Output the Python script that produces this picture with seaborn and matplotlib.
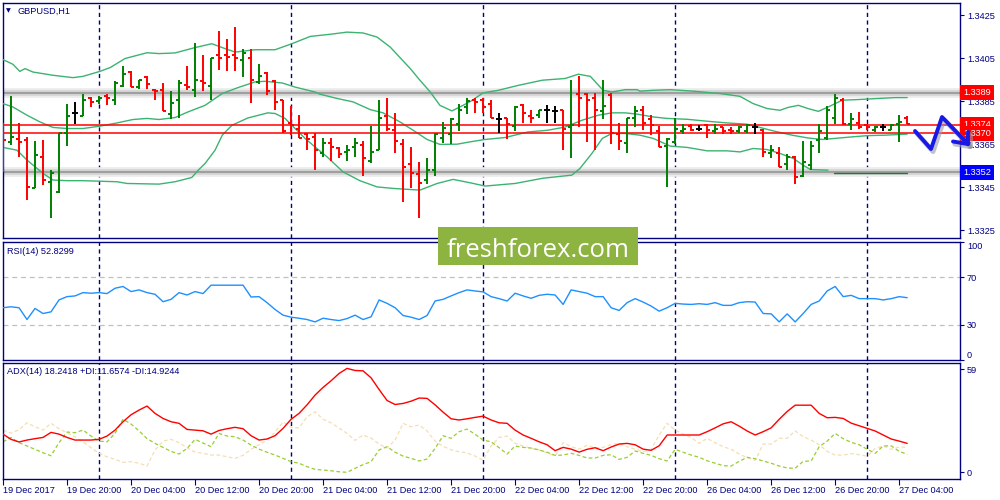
import numpy as np
import pandas as pd
import matplotlib
matplotlib.use("Agg")
import matplotlib.pyplot as plt
import matplotlib.transforms as mtrans
from matplotlib.lines import Line2D
from matplotlib.patches import Rectangle
import seaborn as sns

# ---------------- data ----------------
symbol_title = "GBPUSD,H1"
rsi_title = "RSI(14) 52.8299"
adx_title = "ADX(14) 18.2418 +DI:11.6574 -DI:14.9244"

open_ = [1.33740, 1.33662, 1.33673, 1.33669, 1.33445, 1.33591, 1.33475, 1.33428, 1.33703, 1.33793,
         1.33783, 1.33867, 1.33851, 1.33873, 1.33858, 1.33920, 1.33986, 1.33916, 1.33963, 1.33904,
         1.33901, 1.33790, 1.33855, 1.33924, 1.33904, 1.33944, 1.33920, 1.34064, 1.34064, 1.34064,
         1.34041, 1.34053, 1.33940, 1.33982, 1.33944, 1.33855, 1.33749, 1.33723, 1.33697, 1.33684,
         1.33610, 1.33656, 1.33630, 1.33614, 1.33637, 1.33645, 1.33572, 1.33625, 1.33780, 1.33715,
         1.33653, 1.33557, 1.33510, 1.33483, 1.33532, 1.33681, 1.33697, 1.33746, 1.33823, 1.33858,
         1.33855, 1.33836, 1.33765, 1.33774, 1.33734, 1.33831, 1.33780, 1.33785, 1.33811, 1.33805,
         1.33811, 1.33730, 1.33883, 1.33883, 1.33863, 1.33805, 1.33878, 1.33697, 1.33656, 1.33774,
         1.33811, 1.33765, 1.33712, 1.33641, 1.33661, 1.33712, 1.33734, 1.33723, 1.33738, 1.33712,
         1.33730, 1.33718, 1.33712, 1.33712, 1.33728, 1.33718, 1.33610, 1.33610, 1.33557, 1.33591,
         1.33501, 1.33552, 1.33669, 1.33677, 1.33774, 1.33855, 1.33743, 1.33749, 1.33738, 1.33715,
         1.33728, 1.33718, 1.33743, 1.33770]
high = [1.33750, 1.33873, 1.33748, 1.33683, 1.33664, 1.33669, 1.33532, 1.33703, 1.33836, 1.33847,
        1.33883, 1.33870, 1.33873, 1.33883, 1.33944, 1.34013, 1.33991, 1.33951, 1.33966, 1.33909,
        1.33935, 1.33898, 1.33951, 1.34013, 1.34123, 1.34064, 1.34053, 1.34176, 1.34142, 1.34195,
        1.34092, 1.34092, 1.34022, 1.33986, 1.33948, 1.33855, 1.33827, 1.33785, 1.33700, 1.33700,
        1.33677, 1.33677, 1.33637, 1.33645, 1.33677, 1.33665, 1.33734, 1.33855, 1.33863, 1.33793,
        1.33672, 1.33637, 1.33568, 1.33584, 1.33703, 1.33754, 1.33774, 1.33839, 1.33863, 1.33867,
        1.33863, 1.33855, 1.33793, 1.33774, 1.33827, 1.33835, 1.33808, 1.33811, 1.33831, 1.33827,
        1.33811, 1.33951, 1.33966, 1.33889, 1.33889, 1.33951, 1.33889, 1.33749, 1.33774, 1.33827,
        1.33827, 1.33785, 1.33734, 1.33677, 1.33770, 1.33743, 1.33743, 1.33738, 1.33743, 1.33743,
        1.33730, 1.33728, 1.33734, 1.33746, 1.33749, 1.33723, 1.33645, 1.33637, 1.33604, 1.33594,
        1.33665, 1.33665, 1.33743, 1.33827, 1.33883, 1.33863, 1.33793, 1.33800, 1.33743, 1.33734,
        1.33746, 1.33743, 1.33785, 1.33780]
low = [1.33520, 1.33645, 1.33591, 1.33390, 1.33444, 1.33459, 1.33304, 1.33424, 1.33641, 1.33746,
       1.33780, 1.33823, 1.33839, 1.33831, 1.33831, 1.33916, 1.33916, 1.33909, 1.33909, 1.33858,
       1.33805, 1.33765, 1.33774, 1.33904, 1.33870, 1.33898, 1.33855, 1.33994, 1.33991, 1.33991,
       1.33963, 1.33842, 1.33932, 1.33878, 1.33808, 1.33703, 1.33692, 1.33677, 1.33625, 1.33532,
       1.33591, 1.33572, 1.33584, 1.33572, 1.33591, 1.33501, 1.33563, 1.33625, 1.33712, 1.33610,
       1.33382, 1.33444, 1.33305, 1.33464, 1.33501, 1.33656, 1.33650, 1.33712, 1.33790, 1.33793,
       1.33793, 1.33774, 1.33703, 1.33672, 1.33712, 1.33749, 1.33749, 1.33770, 1.33749, 1.33749,
       1.33625, 1.33584, 1.33730, 1.33661, 1.33625, 1.33765, 1.33653, 1.33625, 1.33610, 1.33730,
       1.33718, 1.33692, 1.33635, 1.33452, 1.33653, 1.33697, 1.33712, 1.33712, 1.33681, 1.33697,
       1.33697, 1.33697, 1.33703, 1.33703, 1.33697, 1.33591, 1.33584, 1.33542, 1.33532, 1.33464,
       1.33495, 1.33532, 1.33610, 1.33669, 1.33746, 1.33738, 1.33718, 1.33723, 1.33718, 1.33707,
       1.33712, 1.33715, 1.33661, 1.33743]
close = [1.33670, 1.33683, 1.33662, 1.33452, 1.33599, 1.33485, 1.33514, 1.33700, 1.33780, 1.33793,
         1.33855, 1.33847, 1.33863, 1.33863, 1.33935, 1.33976, 1.33916, 1.33948, 1.33929, 1.33898,
         1.33805, 1.33842, 1.33935, 1.33916, 1.33951, 1.33935, 1.34053, 1.34053, 1.34056, 1.34053,
         1.34075, 1.33951, 1.33966, 1.33898, 1.33847, 1.33710, 1.33738, 1.33681, 1.33672, 1.33625,
         1.33656, 1.33637, 1.33604, 1.33625, 1.33656, 1.33584, 1.33614, 1.33774, 1.33723, 1.33665,
         1.33545, 1.33514, 1.33470, 1.33532, 1.33697, 1.33724, 1.33765, 1.33811, 1.33851, 1.33847,
         1.33823, 1.33774, 1.33765, 1.33743, 1.33823, 1.33793, 1.33770, 1.33808, 1.33811, 1.33805,
         1.33723, 1.33738, 1.33863, 1.33858, 1.33811, 1.33827, 1.33700, 1.33665, 1.33770, 1.33805,
         1.33749, 1.33738, 1.33635, 1.33672, 1.33723, 1.33723, 1.33715, 1.33723, 1.33715, 1.33723,
         1.33712, 1.33712, 1.33728, 1.33738, 1.33728, 1.33614, 1.33625, 1.33545, 1.33591, 1.33498,
         1.33568, 1.33641, 1.33710, 1.33808, 1.33863, 1.33746, 1.33765, 1.33730, 1.33728, 1.33730,
         1.33728, 1.33738, 1.33754, 1.33743]

upper_t = [0, 1.25, 2.1, 2.75, 3.75, 6.25, 8.75, 10, 12.1, 13.4, 15.25, 18, 19.5, 21.5, 24, 26.1, 27.4,
           29, 31.5, 34, 36.1, 38.4, 40.9, 43, 45, 46.75, 48.4, 50.9, 52.1, 53.4, 54.6, 56.1, 57.5,
           58.5, 60, 61.9, 64.4, 67.4, 70.25, 71.9, 73.4, 75, 76.1, 77.75, 79.25, 79.6, 81.25, 83.4,
           86.25, 89.6, 92.1, 93.75, 95.5, 97.1, 98.1, 99.4, 100.6, 101.9, 103.1, 104.9, 106.9,
           109.4, 111.5, 113]
upper_v = [1.34044, 1.34022, 1.33989, 1.34002, 1.33986, 1.33971, 1.33960, 1.33966, 1.33989, 1.34007,
           1.34049, 1.34076, 1.34072, 1.34075, 1.34100, 1.34118, 1.34100, 1.34079, 1.34090, 1.34090,
           1.34118, 1.34152, 1.34162, 1.34172, 1.34168, 1.34149, 1.34102, 1.34002, 1.33948, 1.33893,
           1.33831, 1.33805, 1.33831, 1.33851, 1.33889, 1.33901, 1.33924, 1.33948, 1.33956, 1.33976,
           1.33966, 1.33901, 1.33893, 1.33904, 1.33904, 1.33897, 1.33901, 1.33904, 1.33897, 1.33886,
           1.33873, 1.33839, 1.33816, 1.33808, 1.33821, 1.33831, 1.33816, 1.33803, 1.33823, 1.33855,
           1.33858, 1.33863, 1.33867, 1.33867]
mid_t = [0, 1.25, 3, 4.6, 6.25, 8, 10, 12.1, 14.25, 16.25, 18, 19.5, 21.5, 23.1, 25.25, 27.4, 29.4,
         31.5, 32.75, 34.9, 36.5, 39, 39.6, 41.75, 43.75, 45.9, 47.5, 49.6, 51.25, 53, 54.6, 56.75,
         58.4, 60.25, 62.75, 65.6, 68.1, 70.25, 72.4, 74.4, 76.1, 77.75, 79.25, 81.25, 83, 85.5, 88,
         90.5, 93, 94.6, 96.25, 98.6, 100.6, 102.4, 104, 106.1, 108.1, 110.25, 113]
mid_v = [1.33839, 1.33823, 1.33785, 1.33754, 1.33728, 1.33723, 1.33723, 1.33734, 1.33749, 1.33765,
         1.33770, 1.33765, 1.33774, 1.33800, 1.33831, 1.33886, 1.33914, 1.33940, 1.33943, 1.33935,
         1.33916, 1.33893, 1.33883, 1.33863, 1.33847, 1.33811, 1.33796, 1.33754, 1.33715, 1.33672,
         1.33649, 1.33650, 1.33661, 1.33672, 1.33681, 1.33707, 1.33715, 1.33730, 1.33762, 1.33785,
         1.33796, 1.33796, 1.33790, 1.33777, 1.33770, 1.33766, 1.33757, 1.33749, 1.33743, 1.33728,
         1.33712, 1.33692, 1.33679, 1.33672, 1.33677, 1.33684, 1.33690, 1.33692, 1.33697]
lower_t = [0, 1.75, 3, 5, 6.25, 8, 10, 14.25, 15.5, 19.5, 21.5, 23.6, 24.4, 25.25, 26.5, 27.4, 28.6,
           30.6, 33.1, 34, 35.25, 36.5, 37.75, 39, 40.5, 42.5, 44.6, 46.75, 48.75, 52.1, 54.25, 56.25,
           58.4, 60.25, 64, 67.4, 71.1, 72.1, 73.6, 74.9, 76.1, 77.75, 79.6, 81.25, 83.4, 85.5, 88,
           90.5, 92.1, 93.75, 95.5, 97.1, 98.75, 100, 100.9, 103.1]
lower_v = [1.33635, 1.33622, 1.33576, 1.33514, 1.33483, 1.33480, 1.33480, 1.33475, 1.33467, 1.33464,
           1.33475, 1.33495, 1.33529, 1.33560, 1.33622, 1.33692, 1.33738, 1.33772, 1.33796, 1.33793,
           1.33770, 1.33723, 1.33677, 1.33637, 1.33591, 1.33521, 1.33480, 1.33451, 1.33444, 1.33436,
           1.33467, 1.33486, 1.33470, 1.33455, 1.33467, 1.33491, 1.33506, 1.33537, 1.33607, 1.33677,
           1.33700, 1.33700, 1.33692, 1.33677, 1.33641, 1.33635, 1.33619, 1.33619, 1.33614, 1.33630,
           1.33625, 1.33607, 1.33584, 1.33552, 1.33532, 1.33529]
lower_flat_t = [103.9, 113]
lower_flat_v = [1.33518, 1.33518]

level_gray = [1.3389, 1.3352]
level_red = [1.3374, 1.3370]
level_box_text = ["1.3389", "1.3374", "1.3370", "1.3352"]
level_box_val = [1.3389, 1.3374, 1.3370, 1.3352]
level_box_col = ["#ff0000", "#ff0000", "#ff0000", "#0000ff"]

rsi = [44.3, 45.1, 44.3, 34.3, 43.7, 39.4, 40.8, 50.9, 53.7, 54.3, 57.1, 56.6, 57.1, 56.3, 60.8, 62.3,
       58.0, 59.4, 57.1, 55.7, 49.4, 51.4, 57.1, 55.1, 58.0, 56.3, 63.4, 63.4, 63.4, 63.4, 63.4, 53.4,
       53.7, 48.6, 42.8, 38.0, 36.3, 35.4, 34.3, 32.3, 35.4, 34.3, 33.4, 35.1, 38.0, 34.3, 36.6, 50.9,
       48.0, 44.3, 37.7, 36.3, 34.3, 37.7, 50.0, 51.4, 54.3, 57.1, 59.4, 58.5, 57.7, 53.7, 52.0,
       50.0, 56.6, 54.3, 52.3, 54.8, 55.7, 55.1, 47.1, 59.4, 58.0, 56.6, 53.7, 53.7, 44.3, 42.0, 48.6,
       52.0, 49.1, 45.7, 41.4, 44.3, 48.0, 47.4, 47.1, 47.7, 47.1, 48.6, 46.3, 46.3, 48.6, 49.4, 49.1,
       39.4, 39.1, 32.3, 39.1, 32.3, 39.4, 47.1, 50.0, 58.5, 62.3, 53.7, 54.8, 52.0, 52.0, 52.0, 50.9,
       52.0, 53.7, 52.8]
adx = [21.9, 18.9, 17.4, 18.5, 19.3, 20.0, 22.9, 21.9, 20.0, 18.5, 18.5, 18.5, 18.9, 20.8, 24.2, 29.0,
       33.0, 35.7, 38.0, 33.8, 30.9, 29.0, 28.1, 24.6, 24.2, 23.8, 21.9, 24.0, 25.0, 25.8, 25.0, 21.0,
       18.5, 19.1, 21.0, 25.2, 30.4, 33.8, 38.7, 44.3, 48.7, 52.5, 56.7, 59.6, 58.4, 58.2, 54.2, 47.5,
       41.2, 38.9, 39.5, 40.8, 42.6, 42.4, 38.7, 34.5, 30.7, 30.0, 30.7, 31.5, 32.2, 30.0, 28.4,
       28.1, 24.2, 21.4, 19.5, 17.5, 15.8, 12.4, 14.3, 13.3, 11.6, 13.2, 14.1, 12.4, 14.5, 16.2, 16.6,
       15.8, 13.3, 12.6, 15.2, 21.4, 21.4, 21.4, 21.4, 21.4, 23.3, 25.5, 27.8, 29.0, 26.5, 23.7, 21.4,
       23.3, 25.5, 30.4, 34.9, 38.5, 38.5, 38.5, 33.8, 31.3, 31.5, 30.9, 28.2, 26.7, 25.2, 23.7, 21.4,
       19.1, 17.9, 16.6]
plus_di = [17.5, 20.0, 17.0, 15.1, 13.2, 11.2, 9.5, 17.0, 23.1, 22.7, 24.2, 20.8, 17.9, 17.5, 22.3, 30.5,
           27.7, 23.8, 19.3, 16.6, 14.3, 12.0, 10.5, 13.7, 18.9, 16.8, 14.7, 22.3, 20.8, 20.4, 18.5, 15.6,
           13.3, 11.5, 9.9, 8.0, 6.1, 5.2, 3.2, 1.7, 1.3, 0.9, 0.3, 0.0, 2.3, 4.4, 6.1, 12.8, 14.7, 11.5,
           9.3, 8.0, 6.5, 7.6, 13.7, 21.0, 19.5, 23.3, 24.8, 21.8, 18.5, 17.5, 14.1,
           10.5, 15.1, 14.3, 13.9, 12.8, 11.5, 9.7, 9.9, 10.9, 9.7, 8.2, 8.2, 9.7, 10.1, 7.4, 8.6, 12.2,
           10.9, 9.7, 7.8, 6.5, 13.2, 11.5, 9.9, 8.6, 6.6, 5.2, 3.8, 3.6, 6.3, 8.6, 7.8, 6.5, 5.2, 3.6,
           2.5, 2.3, 6.3, 6.5, 14.7, 17.9, 22.3, 19.3, 17.2, 15.8, 13.2, 10.9, 15.1, 15.2, 12.0, 10.3]
minus_di = [24.2, 22.5, 24.4, 28.4, 26.1, 24.2, 28.1, 25.0, 22.7, 20.4, 17.5, 14.1, 10.9, 8.9, 7.4, 5.7,
            6.1, 5.2, 3.6, 12.8, 17.9, 18.9, 17.0, 14.1, 11.6, 10.9, 9.9, 9.9, 8.9, 8.0, 9.7, 13.2, 15.8,
            18.5, 23.1, 28.8, 25.8, 25.5, 31.8, 34.7, 30.4, 28.4, 25.4, 22.3, 18.3, 21.4, 19.6, 16.2,
            13.9, 18.5, 28.1, 26.1, 27.1, 23.7, 17.9, 14.9, 12.9, 11.8, 11.1, 9.3, 7.0, 15.1, 20.0,
            20.8, 16.6, 15.1, 13.7, 12.8, 11.2, 9.3, 17.0, 14.7, 13.3, 15.5, 13.9, 14.3, 16.0, 16.6,
            14.7, 13.2, 11.8, 13.2, 21.4, 28.1, 24.2, 21.9, 20.0, 16.6, 19.5, 17.0, 14.7, 13.2, 10.5,
            8.4, 6.9, 16.2, 16.2, 19.5, 19.5, 23.8, 20.4, 18.5, 15.8, 12.0, 9.9, 9.9, 10.7, 10.1, 9.2,
            13.7, 15.1, 13.2, 14.5, 14.3]

xtick_pos = [0, 8, 16, 24, 32, 40, 48, 56, 64, 72, 80, 88, 96, 104, 112]
xtick_lab = ["19 Dec 2017", "19 Dec 20:00", "20 Dec 04:00", "20 Dec 12:00", "20 Dec 20:00",
             "21 Dec 04:00", "21 Dec 12:00", "21 Dec 20:00", "22 Dec 04:00", "22 Dec 12:00",
             "22 Dec 20:00", "26 Dec 04:00", "26 Dec 12:00", "26 Dec 20:00", "27 Dec 04:00"]
day_sep = [12, 36, 60, 84, 108]
price_ticks = [1.3325, 1.3345, 1.3365, 1.3385, 1.3405, 1.3425]
rsi_ticks = [0, 30, 70, 100]
adx_ticks = [0, 59]

# ---------------- styling ----------------
sns.set_theme(style="white")
plt.rcParams['font.family'] = ['Liberation Sans', 'DejaVu Sans']
NAVY = '#000080'
FS = 6.6

n = len(open_)
t = np.arange(n)
bars = pd.DataFrame({'t': t, 'o': open_, 'h': high, 'l': low, 'c': close})
ind = pd.DataFrame({'t': t, 'rsi': rsi, 'adx': adx, 'pdi': plus_di, 'mdi': minus_di})

fig = plt.figure(figsize=(10, 5), dpi=100)


def add_ax(l, tp, r, b):
    return fig.add_axes([l / 1000, 1 - b / 500, (r - l) / 1000, (b - tp) / 500])


ax1 = add_ax(3, 2.5, 960, 238)
ax2 = add_ax(3, 242, 960, 360)
ax3 = add_ax(3, 363, 960, 479)
XMAX = 119.6

for ax in (ax1, ax2, ax3):
    ax.set_facecolor('white')
    ax.set_xlim(0, XMAX)
    for s in ax.spines.values():
        s.set_color(NAVY)
        s.set_linewidth(1.0)
        s.set_visible(True)
    ax.yaxis.tick_right()
    ax.tick_params(axis='y', which='both', direction='out', length=3, width=0.8, color=NAVY,
                   labelcolor=NAVY, labelsize=FS, pad=2, left=False, right=True)
    ax.tick_params(axis='x', bottom=False, labelbottom=False)
    ax.grid(False)
    for d in day_sep:
        ax.axvline(d, color=NAVY, lw=1.0, ls=(0, (3, 2.5)), zorder=1)

# ---- main price panel ----
ax1.set_ylim(1.33213, 1.34310)
for lv in level_gray:
    ax1.axhline(lv, color='#ececec', lw=7, zorder=2)
    ax1.axhline(lv, color='#d2d2d2', lw=4, zorder=2)
    ax1.axhline(lv, color='#9a9a9a', lw=1.3, zorder=2)
for lv in level_red:
    ax1.axhline(lv, color='#ff0000', lw=1.1, zorder=4)

band_col = '#3cb371'
sns.lineplot(x=upper_t, y=upper_v, ax=ax1, color=band_col, lw=1.0, zorder=3)
sns.lineplot(x=mid_t, y=mid_v, ax=ax1, color=band_col, lw=1.0, zorder=3)
sns.lineplot(x=lower_t, y=lower_v, ax=ax1, color=band_col, lw=1.0, zorder=3)
sns.lineplot(x=lower_flat_t, y=lower_flat_v, ax=ax1, color='#1f7a3a', lw=1.0, zorder=3)

cols = np.where(bars.c > bars.o, '#008000', np.where(bars.c < bars.o, '#ff0000', '#000000'))
tick_w = 0.4
ax1.vlines(bars.t, bars.l, bars.h, colors=cols, lw=1.4, zorder=5)
ax1.hlines(bars.o, bars.t - tick_w, bars.t, colors=cols, lw=1.4, zorder=5)
ax1.hlines(bars.c, bars.t, bars.t + tick_w, colors=cols, lw=1.4, zorder=5)

ax1.set_yticks(price_ticks)
ax1.set_yticklabels([f"{p:.4f}" for p in price_ticks])
ax1.set_xlabel('')
ax1.set_ylabel('')

btr = mtrans.blended_transform_factory(ax1.transAxes, ax1.transData)
for txt, v, c in zip(level_box_text, level_box_val, level_box_col):
    ax1.text(1.0 + 3 / 957, v, txt, transform=btr, color='white', fontsize=FS, ha='left',
             va='center', zorder=10, clip_on=False,
             bbox=dict(boxstyle='square,pad=0.32', fc=c, ec='none'))

# ---- RSI panel ----
ax2.set_ylim(0, 100)
for lv in (70, 30):
    ax2.axhline(lv, color='#c0c0c0', lw=0.9, ls=(0, (4, 3)), zorder=1)
sns.lineplot(data=ind, x='t', y='rsi', ax=ax2, color='#1e90ff', lw=1.0, zorder=3)
ax2.set_yticks(rsi_ticks)
ax2.set_yticklabels([str(v) for v in rsi_ticks])
labs = ax2.get_yticklabels()
labs[0].set_va('bottom')
labs[-1].set_va('top')
ax2.set_xlabel('')
ax2.set_ylabel('')

# ---- ADX panel ----
ax3.set_ylim(-3.84, 62.7)
sns.lineplot(data=ind, x='t', y='mdi', ax=ax3, color='#f5deb3', lw=0.9, ls=(0, (3, 2)), zorder=2)
sns.lineplot(data=ind, x='t', y='pdi', ax=ax3, color='#9acd32', lw=0.9, ls=(0, (3, 2)), zorder=2)
sns.lineplot(data=ind, x='t', y='adx', ax=ax3, color='#ff0000', lw=1.0, zorder=3)
ax3.set_yticks(adx_ticks)
ax3.set_yticklabels([str(v) for v in adx_ticks])
ax3.set_xlabel('')
ax3.set_ylabel('')
ax3.set_xticks(xtick_pos)
ax3.set_xticklabels(xtick_lab, ha='left')
ax3.tick_params(axis='x', bottom=True, labelbottom=True, direction='out', length=4, width=0.8,
                color=NAVY, labelcolor=NAVY, labelsize=FS, pad=1)
for ax in (ax1, ax2, ax3):
    ax.set_xlim(0, XMAX)

# ---- panel titles ----
fig.text(6 / 1000, 1 - 11 / 500, '\u25bc', fontsize=4.5, color=NAVY, va='center', ha='left',
         family='DejaVu Sans')
fig.text(18 / 1000, 1 - 11 / 500, symbol_title, fontsize=FS, color=NAVY, va='center', ha='left')
fig.text(7 / 1000, 1 - 251.5 / 500, rsi_title, fontsize=FS, color=NAVY, va='center', ha='left')
fig.text(7 / 1000, 1 - 371.5 / 500, adx_title, fontsize=FS, color=NAVY, va='center', ha='left')

# ---- hand-drawn forecast arrow (decoration) ----
def px(xs, ys):
    return [x / 1000 for x in xs], [1 - y / 500 for y in ys]

arrow_x = [915, 931, 942, 968]
arrow_y = [131, 149, 117, 144]
head1_x, head1_y = [953, 968], [141.5, 144]
head2_x, head2_y = [968, 968], [131.5, 144]
for dx, dy, col, lw, z in [(2, 2.5, '#9a9aa8', 3.6, 6), (0, 0, '#1818e8', 2.8, 7)]:
    for xs, ys in [(arrow_x, arrow_y), (head1_x, head1_y), (head2_x, head2_y)]:
        X, Y = px([x + dx for x in xs], [y + dy for y in ys])
        fig.add_artist(Line2D(X, Y, transform=fig.transFigure, color=col, lw=lw,
                              solid_capstyle='round', solid_joinstyle='round', zorder=z,
                              alpha=0.6 if dx else 1.0))

# ---- watermark ----
fig.add_artist(Rectangle((438 / 1000, 1 - 265 / 500), 200 / 1000, 38 / 500,
                         transform=fig.transFigure, fc='#8db440', ec='none', zorder=8))
fig.text(538.5 / 1000, 1 - 257 / 500, 'freshforex.com', fontsize=18.5, color='white',
         ha='center', va='baseline', family=['Open Sans', 'DejaVu Sans'], zorder=9)

fig.savefig('out.png', dpi=100, facecolor='white')
